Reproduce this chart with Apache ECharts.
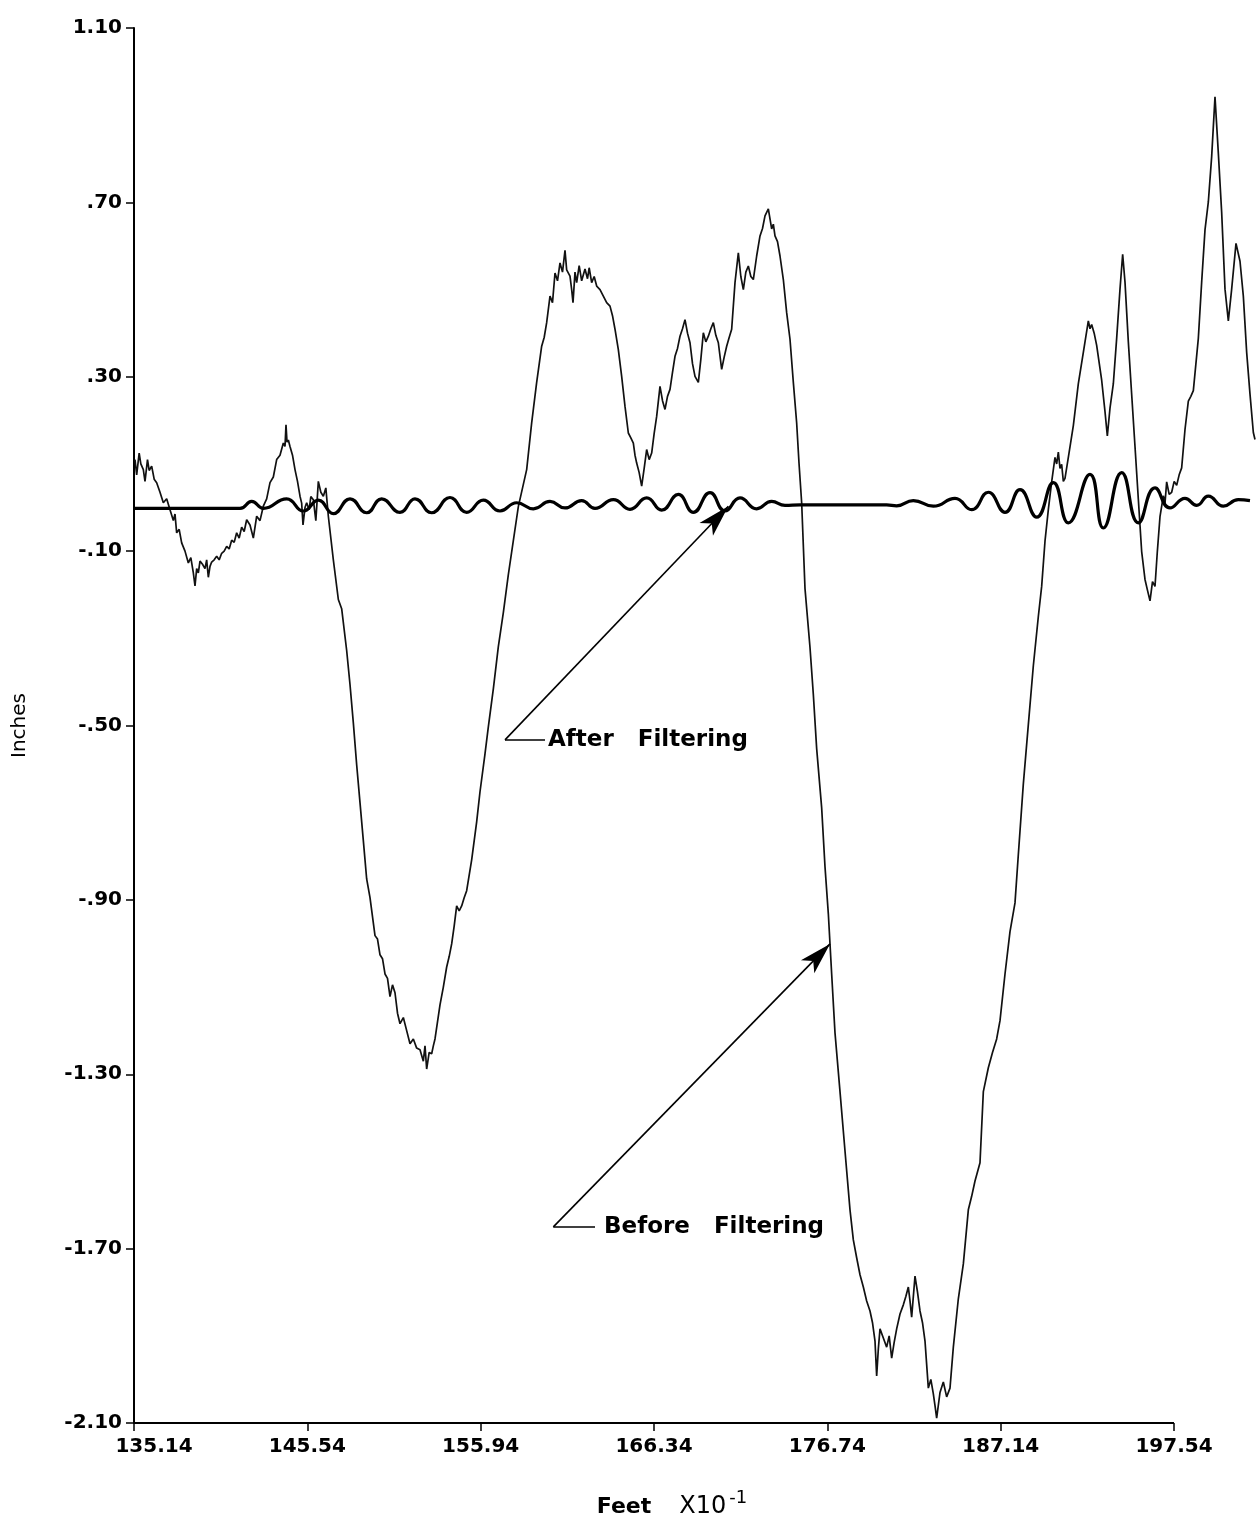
<!DOCTYPE html>
<html>
<head>
<meta charset="utf-8">
<script src="https://cdn.jsdelivr.net/npm/echarts@6/dist/echarts.min.js"></script>
<style>
html,body{margin:0;padding:0;background:#fff;}
#chart{width:1258px;height:1524px;}
</style>
</head>
<body>
<div id="chart"></div>
<script>
// ---- Tick labels ----
const xTicks = [135.14, 145.54, 155.94, 166.34, 176.74, 187.14, 197.54];
const yTicks = [-2.10, -1.70, -1.30, -0.90, -0.50, -0.10, 0.30, 0.70, 1.10];
const xPlotEnd = 202.58; // trace runs past the last labelled tick

// ---- Before filtering (raw profile): [feet x10^-1, inches] ----
const beforeProfile = [
[135.20,0.110],[135.30,0.075],[135.45,0.125],[135.55,0.100],[135.70,0.087],[135.80,0.060],[135.95,0.110],[136.05,0.085],[136.20,0.095],[136.35,0.065],
[136.50,0.057],[136.70,0.035],[136.90,0.011],[137.10,0.020],[137.30,-0.005],[137.50,-0.030],[137.60,-0.015],[137.70,-0.058],[137.85,-0.050],[138.00,-0.081],
[138.20,-0.100],[138.40,-0.127],[138.55,-0.115],[138.70,-0.150],[138.80,-0.180],[138.90,-0.140],[139.00,-0.150],[139.10,-0.123],[139.25,-0.130],[139.40,-0.140],
[139.50,-0.120],[139.60,-0.160],[139.70,-0.135],[139.80,-0.125],[139.95,-0.120],[140.10,-0.112],[140.25,-0.120],[140.40,-0.105],[140.55,-0.100],[140.70,-0.089],
[140.85,-0.095],[141.00,-0.075],[141.15,-0.080],[141.30,-0.058],[141.45,-0.070],[141.60,-0.045],[141.75,-0.055],[141.90,-0.028],[142.10,-0.040],[142.30,-0.070],
[142.50,-0.020],[142.70,-0.030],[142.90,0.003],[143.10,0.020],[143.30,0.057],[143.50,0.070],[143.70,0.110],[143.90,0.120],[144.10,0.148],[144.20,0.140],
[144.26,0.190],[144.32,0.150],[144.40,0.155],[144.50,0.140],[144.65,0.120],[144.80,0.087],[144.95,0.060],[145.10,0.026],[145.20,0.010],[145.28,-0.040],
[145.40,0.000],[145.50,0.011],[145.65,-0.005],[145.75,0.025],[145.90,0.018],[146.05,-0.030],[146.20,0.060],[146.35,0.035],[146.50,0.026],[146.65,0.045],
[146.80,-0.020],[147.10,-0.120],[147.40,-0.211],[147.60,-0.232],[147.90,-0.328],[148.10,-0.406],[148.30,-0.494],[148.50,-0.590],[148.70,-0.677],[148.90,-0.764],
[149.10,-0.852],[149.30,-0.895],[149.60,-0.982],[149.75,-0.990],[149.90,-1.026],[150.05,-1.035],[150.20,-1.070],[150.35,-1.080],[150.50,-1.122],[150.65,-1.095],
[150.80,-1.113],[150.95,-1.160],[151.10,-1.184],[151.30,-1.170],[151.50,-1.200],[151.70,-1.230],[151.90,-1.219],[152.10,-1.240],[152.30,-1.244],[152.50,-1.270],
[152.60,-1.235],[152.70,-1.288],[152.85,-1.250],[153.00,-1.253],[153.10,-1.235],[153.20,-1.219],[153.35,-1.180],[153.50,-1.141],[153.70,-1.100],[153.90,-1.054],
[154.05,-1.030],[154.20,-1.001],[154.35,-0.960],[154.50,-0.914],[154.65,-0.925],[154.80,-0.914],[154.95,-0.895],[155.10,-0.879],[155.40,-0.808],[155.70,-0.721],
[155.90,-0.652],[156.20,-0.565],[156.40,-0.503],[156.70,-0.416],[157.00,-0.319],[157.30,-0.241],[157.60,-0.154],[157.90,-0.076],[158.20,0.002],[158.70,0.087],
[159.00,0.194],[159.30,0.287],[159.60,0.370],[159.75,0.390],[159.90,0.424],[160.10,0.485],[160.25,0.470],[160.40,0.538],[160.55,0.520],[160.70,0.561],
[160.85,0.540],[161.00,0.590],[161.10,0.545],[161.30,0.531],[161.40,0.500],[161.48,0.470],[161.60,0.540],[161.70,0.516],[161.85,0.555],[162.00,0.520],
[162.20,0.547],[162.35,0.525],[162.45,0.550],[162.60,0.516],[162.75,0.530],[162.90,0.508],[163.10,0.500],[163.30,0.485],[163.50,0.470],[163.70,0.462],
[163.85,0.440],[164.00,0.409],[164.20,0.362],[164.40,0.301],[164.60,0.232],[164.80,0.171],[164.95,0.160],[165.10,0.148],[165.20,0.120],[165.30,0.102],
[165.45,0.080],[165.60,0.049],[165.75,0.090],[165.90,0.133],[166.05,0.110],[166.20,0.125],[166.35,0.170],[166.50,0.209],[166.70,0.278],[166.85,0.245],
[167.00,0.225],[167.15,0.255],[167.30,0.271],[167.45,0.310],[167.60,0.347],[167.75,0.365],[167.90,0.393],[168.05,0.410],[168.20,0.431],[168.35,0.400],
[168.50,0.378],[168.65,0.330],[168.80,0.301],[169.00,0.287],[169.15,0.340],[169.30,0.401],[169.45,0.380],[169.60,0.393],[169.75,0.410],[169.90,0.424],
[170.05,0.395],[170.20,0.378],[170.40,0.317],[170.55,0.345],[170.70,0.370],[170.85,0.390],[171.00,0.409],[171.20,0.516],[171.40,0.584],[171.55,0.530],
[171.70,0.500],[171.85,0.540],[172.00,0.554],[172.15,0.530],[172.30,0.523],[172.50,0.577],[172.70,0.623],[172.85,0.640],[173.00,0.669],[173.20,0.685],
[173.40,0.639],[173.50,0.650],[173.60,0.623],[173.75,0.610],[173.90,0.577],[174.10,0.523],[174.30,0.447],[174.50,0.386],[174.70,0.287],[174.90,0.194],
[175.04,0.102],[175.20,0.011],[175.40,-0.186],[175.70,-0.321],[175.90,-0.429],[176.10,-0.553],[176.40,-0.689],[176.60,-0.824],[176.80,-0.932],[177.00,-1.070],
[177.20,-1.205],[177.50,-1.340],[177.80,-1.476],[178.10,-1.611],[178.30,-1.680],[178.50,-1.721],[178.70,-1.760],[178.90,-1.788],[179.10,-1.820],[179.30,-1.843],
[179.45,-1.870],[179.60,-1.912],[179.70,-1.992],[179.80,-1.930],[179.90,-1.884],[180.10,-1.905],[180.30,-1.926],[180.45,-1.900],[180.60,-1.951],[180.75,-1.915],
[180.90,-1.884],[181.10,-1.850],[181.30,-1.829],[181.45,-1.810],[181.60,-1.788],[181.70,-1.820],[181.80,-1.857],[182.00,-1.763],[182.15,-1.800],[182.30,-1.843],
[182.45,-1.870],[182.60,-1.912],[182.80,-2.020],[182.95,-2.000],[183.10,-2.033],[183.20,-2.060],[183.30,-2.089],[183.50,-2.030],[183.70,-2.006],[183.90,-2.040],
[184.10,-2.020],[184.30,-1.926],[184.60,-1.815],[184.90,-1.735],[185.20,-1.611],[185.40,-1.580],[185.60,-1.545],[185.90,-1.503],[186.10,-1.340],[186.40,-1.285],
[186.65,-1.250],[186.90,-1.219],[187.10,-1.177],[187.40,-1.070],[187.70,-0.973],[188.00,-0.907],[188.20,-0.796],[188.50,-0.634],[188.80,-0.498],[189.10,-0.363],
[189.40,-0.250],[189.60,-0.181],[189.80,-0.077],[190.00,-0.005],[190.20,0.059],[190.40,0.115],[190.50,0.100],[190.60,0.127],[190.70,0.090],[190.80,0.099],
[190.90,0.060],[191.00,0.067],[191.20,0.115],[191.50,0.188],[191.80,0.284],[192.10,0.356],[192.40,0.428],[192.50,0.410],[192.60,0.420],[192.75,0.400],
[192.90,0.372],[193.20,0.292],[193.40,0.220],[193.54,0.164],[193.70,0.228],[193.90,0.284],[194.10,0.388],[194.30,0.501],[194.46,0.581],[194.60,0.517],
[194.80,0.380],[195.00,0.260],[195.20,0.140],[195.40,0.019],[195.60,-0.101],[195.80,-0.165],[195.95,-0.190],[196.10,-0.214],[196.25,-0.170],[196.40,-0.181],
[196.54,-0.101],[196.70,-0.021],[196.90,0.027],[197.00,0.010],[197.10,0.059],[197.25,0.030],[197.40,0.035],[197.55,0.060],[197.70,0.051],[197.85,0.075],
[198.00,0.091],[198.20,0.179],[198.40,0.244],[198.55,0.255],[198.70,0.268],[199.00,0.388],[199.20,0.517],[199.40,0.637],[199.60,0.701],[199.80,0.805],
[200.00,0.942],[200.20,0.813],[200.40,0.677],[200.60,0.501],[200.80,0.428],[201.00,0.501],[201.26,0.606],[201.50,0.565],[201.70,0.485],[201.90,0.356],
[202.10,0.260],[202.30,0.172],[202.40,0.156]
];

// ---- After filtering ----
const afterFeet = [
135.14,141.50,142.20,142.90,144.30,145.30,146.20,147.10,148.10,149.10,150.00,151.10,152.00,153.00,154.10,155.10,156.10,157.10,158.10,159.10,
160.10,161.00,162.00,162.80,163.90,164.90,165.90,166.80,167.80,168.70,169.70,170.60,171.50,172.50,173.40,174.20,175.10,177.70,180.30,180.90,
181.90,183.10,184.40,185.40,186.40,187.40,188.30,189.30,190.30,191.20,192.50,193.30,194.40,195.40,196.40,197.30,198.20,198.90,199.60,200.50,
201.40,202.10
];
const afterInches = [
-0.002,-0.002,0.014,-0.002,0.020,-0.008,0.017,-0.014,0.020,-0.012,0.020,-0.011,0.020,-0.012,0.023,-0.011,0.017,-0.008,0.011,-0.003,
0.014,-0.001,0.016,-0.002,0.018,-0.004,0.022,-0.006,0.030,-0.011,0.034,-0.008,0.022,-0.003,0.014,0.005,0.006,0.006,0.006,0.004,
0.016,0.003,0.021,-0.005,0.035,-0.011,0.041,-0.022,0.057,-0.035,0.076,-0.047,0.080,-0.035,0.045,-0.001,0.021,0.005,0.026,0.003,
0.018,0.016
];

// ---- Annotation anchors (feet, inches) ----
const afterLeaderStart = [157.40, -0.533];
const afterLeaderEnd   = [159.80, -0.533];
const afterArrowTip    = [170.80, 0.003];
const beforeLeaderStart = [160.30, -1.650];
const beforeLeaderEnd   = [162.80, -1.650];
const beforeArrowTip    = [176.90, -1.001];
const afterLabel = 'After   Filtering';
const beforeLabel = 'Before   Filtering';

const zip = (a, b) => a.map((v, i) => [v, b[i]]);
const FONT = 'DejaVu Sans';

function fmtY(v) {
  let s = Math.abs(v).toFixed(2);
  if (s.charAt(0) === '0') s = s.slice(1);
  return (v < -1e-9 ? '-' : '') + s;
}

const chart = echarts.init(document.getElementById('chart'), null, {renderer: 'canvas'});
const arrowItem = (from, tip) => [
  {coord: from, symbol: 'none'},
  {coord: tip, symbol: 'arrow', symbolSize: [14, 32]}
];
const leaderItem = (from, to, text, dist) => [
  {coord: from, symbol: 'none',
   label: {show: true, position: 'end', formatter: text, distance: dist,
           color: '#000', fontFamily: FONT, fontWeight: 'bold', fontSize: 23}},
  {coord: to, symbol: 'none'}
];

chart.setOption({
  backgroundColor: '#fff',
  animation: false,
  grid: {left: 134, right: 0, top: 28, bottom: 101, containLabel: false, outerBoundsMode: 'none'},
  xAxis: {
    type: 'value', min: xTicks[0], max: xPlotEnd,
    name: '{a|Feet}    {b|X10}{c|-1}',
    nameLocation: 'middle', nameGap: 66,
    nameTextStyle: {
      color: '#000', fontFamily: FONT, fontSize: 22, padding: [0, 48, 0, 0],
      rich: {
        a: {fontFamily: FONT, fontSize: 22, fontWeight: 'bold', color: '#000'},
        b: {fontFamily: FONT, fontSize: 24, color: '#000'},
        c: {fontFamily: FONT, fontSize: 18, color: '#000', padding: [0, 0, 18, 3]}
      }
    },
    axisLine: {show: false, onZero: false},
    axisTick: {show: true, customValues: xTicks, length: 8, lineStyle: {color: '#000', width: 1.5}},
    axisLabel: {
      customValues: xTicks, margin: 14, color: '#000', fontFamily: FONT, fontSize: 20, fontWeight: 'bold',
      formatter: v => Math.abs(v - xTicks[0]) < 1e-6 ? '{first|' + v.toFixed(2) + '}' : v.toFixed(2),
      rich: {first: {fontFamily: FONT, fontSize: 20, fontWeight: 'bold', color: '#000', padding: [0, 0, 0, 40]}}
    },
    splitLine: {show: false}
  },
  yAxis: {
    type: 'value', min: yTicks[0], max: yTicks[yTicks.length - 1],
    name: 'Inches', nameLocation: 'middle', nameGap: 104, nameRotate: 90,
    nameTextStyle: {color: '#000', fontFamily: FONT, fontSize: 20},
    axisLine: {show: true, onZero: false, lineStyle: {color: '#000', width: 2}},
    axisTick: {show: true, customValues: yTicks, length: 8, lineStyle: {color: '#000', width: 1.5}},
    axisLabel: {customValues: yTicks, margin: 12, color: '#000', fontFamily: FONT, fontSize: 20, fontWeight: 'bold', formatter: fmtY},
    splitLine: {show: false}
  },
  series: [
    {
      name: 'Before Filtering', type: 'line', data: beforeProfile,
      showSymbol: false, clip: false, silent: true,
      lineStyle: {color: '#111', width: 1.7},
      markLine: {
        silent: true, animation: false, symbol: 'none',
        label: {show: false},
        lineStyle: {color: '#000', width: 2, type: 'solid'},
        emphasis: {disabled: true},
        data: [[{coord: [xTicks[0], yTicks[0]]}, {coord: [xTicks[xTicks.length - 1], yTicks[0]]}]]
      }
    },
    {
      name: 'After Filtering', type: 'line', data: zip(afterFeet, afterInches),
      smooth: 0.5, showSymbol: false, clip: false, silent: true,
      lineStyle: {color: '#000', width: 3.2},
      markLine: {
        silent: true, animation: false,
        label: {show: false},
        lineStyle: {color: '#000', width: 1.6, type: 'solid'},
        emphasis: {disabled: true},
        data: [
          arrowItem(afterLeaderStart, afterArrowTip),
          leaderItem(afterLeaderStart, afterLeaderEnd, afterLabel, 3),
          arrowItem(beforeLeaderStart, beforeArrowTip),
          leaderItem(beforeLeaderStart, beforeLeaderEnd, beforeLabel, 9)
        ]
      }
    }
  ]
});
</script>
</body>
</html>
